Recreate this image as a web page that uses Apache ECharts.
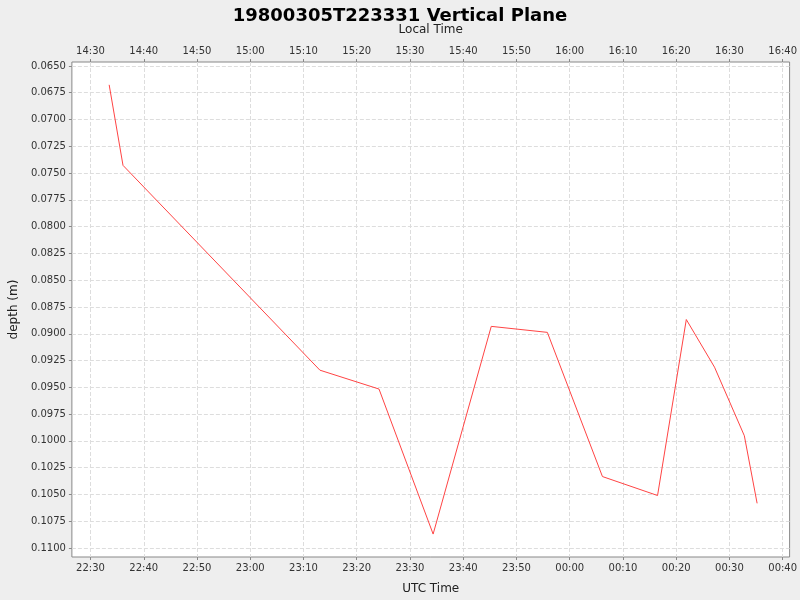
<!DOCTYPE html>
<html><head><meta charset="utf-8">
<script src="https://cdn.jsdelivr.net/npm/echarts@6/dist/echarts.min.js"></script>
<style>html,body{margin:0;padding:0;background:#eeeeee}#c{width:800px;height:600px}</style>
</head><body><div id="c"></div>
<script>
// UTC times (HH:MM:SS) and depths (m)
const utcTimes = ["22:33:30","22:36:06","23:13:05","23:24:11","23:34:21","23:45:16","23:55:48","00:06:09","00:16:30","00:21:54","00:27:12","00:32:48","00:35:12"];
const depths = [0.06676,0.07428,0.0934,0.09516,0.1087,0.08931,0.08987,0.10333,0.1051,0.08867,0.09312,0.09952,0.10583];
const xTickLabelsUTC = ["22:30","22:40","22:50","23:00","23:10","23:20","23:30","23:40","23:50","00:00","00:10","00:20","00:30","00:40"];
const yTicks = [0.065,0.0675,0.07,0.0725,0.075,0.0775,0.08,0.0825,0.085,0.0875,0.09,0.0925,0.095,0.0975,0.1,0.1025,0.105,0.1075,0.11];

function toMin(s){const p=s.split(':').map(Number);let h=p[0];if(h<12)h+=24;return (h-22)*60+p[1]+(p[2]||0)/60;}
function fmt(m,off){let t=Math.round(m)+22*60+off*60;t=((t%1440)+1440)%1440;const h=Math.floor(t/60),mm=t%60;return String(h).padStart(2,'0')+':'+String(mm).padStart(2,'0');}
const xTickVals = xTickLabelsUTC.map(toMin);
const data = utcTimes.map((t,i)=>[toMin(t),depths[i]]);
const XMIN=26.5, XMAX=161.3;
const lbl={fontSize:10,color:'#333',fontFamily:'DejaVu Sans'};
const chart=echarts.init(document.getElementById('c'));
chart.setOption({
  backgroundColor:'#eeeeee',animation:false,
  title:{text:'19800305T223331 Vertical Plane',left:'center',top:2,textStyle:{fontSize:18,fontWeight:'bold',color:'#000',fontFamily:'DejaVu Sans'}},
  grid:{left:63,right:8,top:62,bottom:40,show:true,backgroundColor:'#fff',borderColor:'#888',borderWidth:1},
  xAxis:[
    {type:'value',min:XMIN,max:XMAX,position:'bottom',name:'UTC Time',nameLocation:'middle',nameGap:26,nameTextStyle:{fontSize:12,color:'#222',fontFamily:'DejaVu Sans'},
     axisLine:{show:false},axisTick:{customValues:xTickVals,length:3,lineStyle:{color:'#888'}},
     axisLabel:Object.assign({customValues:xTickVals,formatter:v=>fmt(v,0),margin:6},lbl),
     splitLine:{show:true,lineStyle:{color:'#dddddd',type:'dashed'}}},
    {type:'value',min:XMIN,max:XMAX,position:'top',name:'Local Time',nameLocation:'middle',nameGap:26,nameTextStyle:{fontSize:12,color:'#222',fontFamily:'DejaVu Sans'},
     axisLine:{show:false},axisTick:{customValues:xTickVals,length:3,lineStyle:{color:'#888'}},
     axisLabel:Object.assign({customValues:xTickVals,formatter:v=>fmt(v,-8),margin:6},lbl),
     splitLine:{show:false}}
  ],
  yAxis:{type:'value',inverse:true,min:0.06463,max:0.11084,name:'depth (m)',nameLocation:'middle',nameGap:44,nameTextStyle:{fontSize:12,color:'#222',fontFamily:'DejaVu Sans'},
    axisLine:{show:false},axisTick:{customValues:yTicks,length:3,lineStyle:{color:'#888'}},
    axisLabel:Object.assign({customValues:yTicks,formatter:v=>v.toFixed(4),margin:6},lbl),
    splitLine:{show:true,lineStyle:{color:'#dddddd',type:'dashed'}}},
  series:[{type:'line',data:data,symbol:'none',lineStyle:{color:'#ff4444',width:1}}]
});
</script></body></html>
